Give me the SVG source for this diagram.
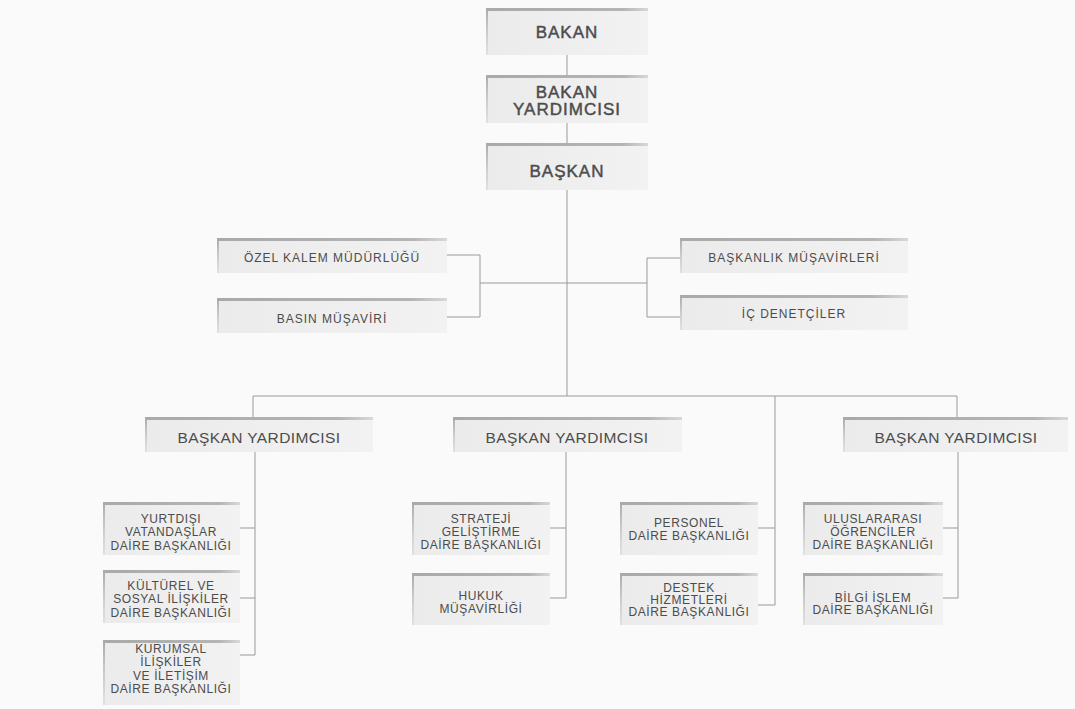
<svg xmlns="http://www.w3.org/2000/svg" width="1075" height="709" viewBox="0 0 1075 709">
<defs>
<linearGradient id="gTop" x1="0" y1="0" x2="1" y2="0"><stop offset="0" stop-color="#a9a9a9"/><stop offset="0.85" stop-color="#b5b5b5"/><stop offset="1" stop-color="#d8d8d8"/></linearGradient>
<linearGradient id="gLeft" x1="0" y1="0" x2="0" y2="1"><stop offset="0" stop-color="#a9a9a9"/><stop offset="1" stop-color="#cfcfcf" stop-opacity="0.4"/></linearGradient>
<linearGradient id="gFill" x1="0" y1="0" x2="1" y2="0"><stop offset="0" stop-color="#ebebeb"/><stop offset="1" stop-color="#f2f2f2"/></linearGradient>
</defs>
<style>
.bx{fill:url(#gFill)}
.bt{fill:url(#gTop)}
.bl{fill:url(#gLeft)}
text{font-family:"Liberation Sans",Arial,sans-serif;fill:#4c4c4c;text-anchor:middle}
.t1{font-size:17px;letter-spacing:1px;stroke:#4c4c4c;stroke-width:0.45px}
.t2{font-size:15.5px;letter-spacing:0.4px}
.t3{font-size:12px;letter-spacing:1px}
.t4{font-size:12px;letter-spacing:0.6px}
.c{stroke:#9a9a9a;stroke-width:1;fill:none}
</style>
<rect width="1075" height="709" fill="#fafafa"/>
<g id="connectors">
<path class="c" d="M567 55V75M567 123V143M567 190V396"/>
<path class="c" d="M447 255H480V317H447M480 283H647M680 258H647V317H680"/>
<path class="c" d="M253 417V396H957V417M775 396V605"/>
<path class="c" d="M255 452V655M240 528H255M240 598H255M240 655H255"/>
<path class="c" d="M566 452V598M550 528H566M550 598H566"/>
<path class="c" d="M758 528H775M758 605H775"/>
<path class="c" d="M958 452V598M943 528H958M943 598H958"/>
</g>
<g id="bakan"><rect class="bx" x="486" y="8" width="162" height="47"/><rect class="bt" x="486" y="8" width="162" height="3"/><rect class="bl" x="486" y="8" width="2" height="47"/><text class="t1" x="567" y="38">BAKAN</text></g>
<g id="bakan-yardimcisi"><rect class="bx" x="486" y="75" width="162" height="48"/><rect class="bt" x="486" y="75" width="162" height="3"/><rect class="bl" x="486" y="75" width="2" height="48"/><text class="t1" x="567" y="98">BAKAN</text><text class="t1" x="567" y="115">YARDIMCISI</text></g>
<g id="baskan"><rect class="bx" x="486" y="143" width="162" height="47"/><rect class="bt" x="486" y="143" width="162" height="3"/><rect class="bl" x="486" y="143" width="2" height="47"/><text class="t1" x="567" y="177">BAŞKAN</text></g>
<g id="ozel-kalem"><rect class="bx" x="217" y="238" width="230" height="35"/><rect class="bt" x="217" y="238" width="230" height="3"/><rect class="bl" x="217" y="238" width="2" height="35"/><text class="t3" x="332" y="262">ÖZEL KALEM MÜDÜRLÜĞÜ</text></g>
<g id="basin"><rect class="bx" x="217" y="298" width="230" height="35"/><rect class="bt" x="217" y="298" width="230" height="3"/><rect class="bl" x="217" y="298" width="2" height="35"/><text class="t3" x="332" y="323">BASIN MÜŞAVİRİ</text></g>
<g id="baskanlik-musavirleri"><rect class="bx" x="680" y="238" width="228" height="35"/><rect class="bt" x="680" y="238" width="228" height="3"/><rect class="bl" x="680" y="238" width="2" height="35"/><text class="t3" x="794" y="262">BAŞKANLIK MÜŞAVİRLERİ</text></g>
<g id="ic-denetciler"><rect class="bx" x="680" y="295" width="228" height="35"/><rect class="bt" x="680" y="295" width="228" height="3"/><rect class="bl" x="680" y="295" width="2" height="35"/><text class="t3" x="794" y="318">İÇ DENETÇİLER</text></g>
<g id="by1"><rect class="bx" x="145" y="417" width="228" height="35"/><rect class="bt" x="145" y="417" width="228" height="3"/><rect class="bl" x="145" y="417" width="2" height="35"/><text class="t2" x="259" y="443">BAŞKAN YARDIMCISI</text></g>
<g id="by2"><rect class="bx" x="453" y="417" width="229" height="35"/><rect class="bt" x="453" y="417" width="229" height="3"/><rect class="bl" x="453" y="417" width="2" height="35"/><text class="t2" x="567" y="443">BAŞKAN YARDIMCISI</text></g>
<g id="by3"><rect class="bx" x="843" y="417" width="225" height="35"/><rect class="bt" x="843" y="417" width="225" height="3"/><rect class="bl" x="843" y="417" width="2" height="35"/><text class="t2" x="956" y="443">BAŞKAN YARDIMCISI</text></g>
<g id="yurtdisi"><rect class="bx" x="103" y="502" width="137" height="53"/><rect class="bt" x="103" y="502" width="137" height="3"/><rect class="bl" x="103" y="502" width="2" height="53"/><text class="t4" x="171" y="523">YURTDIŞI</text><text class="t4" x="171" y="536">VATANDAŞLAR</text><text class="t4" x="171" y="550">DAİRE BAŞKANLIĞI</text></g>
<g id="kulturel"><rect class="bx" x="103" y="570" width="137" height="53"/><rect class="bt" x="103" y="570" width="137" height="3"/><rect class="bl" x="103" y="570" width="2" height="53"/><text class="t4" x="171" y="590">KÜLTÜREL VE</text><text class="t4" x="171" y="603">SOSYAL İLİŞKİLER</text><text class="t4" x="171" y="617">DAİRE BAŞKANLIĞI</text></g>
<g id="kurumsal"><rect class="bx" x="103" y="640" width="137" height="65"/><rect class="bt" x="103" y="640" width="137" height="3"/><rect class="bl" x="103" y="640" width="2" height="65"/><text class="t4" x="171" y="653">KURUMSAL</text><text class="t4" x="171" y="666">İLİŞKİLER</text><text class="t4" x="171" y="680">VE İLETİŞİM</text><text class="t4" x="171" y="693">DAİRE BAŞKANLIĞI</text></g>
<g id="strateji"><rect class="bx" x="412" y="502" width="138" height="53"/><rect class="bt" x="412" y="502" width="138" height="3"/><rect class="bl" x="412" y="502" width="2" height="53"/><text class="t4" x="481" y="523">STRATEJİ</text><text class="t4" x="481" y="536">GELİŞTİRME</text><text class="t4" x="481" y="549">DAİRE BAŞKANLIĞI</text></g>
<g id="hukuk"><rect class="bx" x="412" y="573" width="138" height="52"/><rect class="bt" x="412" y="573" width="138" height="3"/><rect class="bl" x="412" y="573" width="2" height="52"/><text class="t4" x="481" y="600">HUKUK</text><text class="t4" x="481" y="613">MÜŞAVİRLİĞİ</text></g>
<g id="personel"><rect class="bx" x="620" y="502" width="138" height="53"/><rect class="bt" x="620" y="502" width="138" height="3"/><rect class="bl" x="620" y="502" width="2" height="53"/><text class="t4" x="689" y="527">PERSONEL</text><text class="t4" x="689" y="540">DAİRE BAŞKANLIĞI</text></g>
<g id="destek"><rect class="bx" x="620" y="573" width="138" height="52"/><rect class="bt" x="620" y="573" width="138" height="3"/><rect class="bl" x="620" y="573" width="2" height="52"/><text class="t4" x="689" y="592">DESTEK</text><text class="t4" x="689" y="604">HİZMETLERİ</text><text class="t4" x="689" y="616">DAİRE BAŞKANLIĞI</text></g>
<g id="uluslararasi"><rect class="bx" x="803" y="502" width="140" height="53"/><rect class="bt" x="803" y="502" width="140" height="3"/><rect class="bl" x="803" y="502" width="2" height="53"/><text class="t4" x="873" y="523">ULUSLARARASI</text><text class="t4" x="873" y="536">ÖĞRENCİLER</text><text class="t4" x="873" y="549">DAİRE BAŞKANLIĞI</text></g>
<g id="bilgi-islem"><rect class="bx" x="803" y="573" width="140" height="52"/><rect class="bt" x="803" y="573" width="140" height="3"/><rect class="bl" x="803" y="573" width="2" height="52"/><text class="t4" x="873" y="602">BİLGİ İŞLEM</text><text class="t4" x="873" y="614">DAİRE BAŞKANLIĞI</text></g>
</svg>
